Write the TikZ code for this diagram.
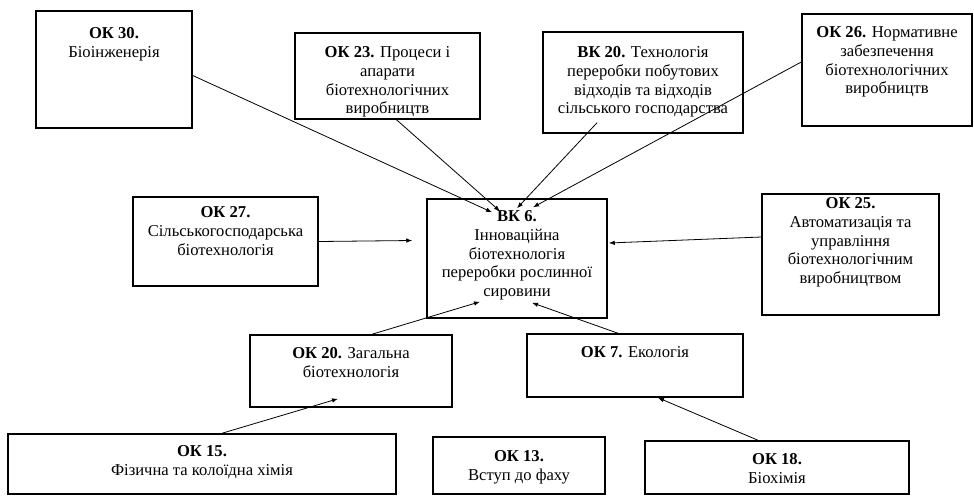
\documentclass[tikz,border=0pt]{standalone}
\usepackage{fontspec}
\setmainfont{Liberation Serif}
\usepackage{tikz}
\usetikzlibrary{arrows.meta,calc}

\begin{document}
\begin{tikzpicture}[x=1pt, y=-1pt,
    box/.style={draw, line width=1.5pt, inner sep=0pt},
    txt/.style={anchor=north, align=center, inner sep=0pt, yshift=-13pt,
      font=\fontsize{16.6}{18.8}\selectfont},
    arrow/.style={-{Latex[length=6pt, width=4.5pt]}, line width=0.8pt}
  ]
    \useasboundingbox (0,0) rectangle (974,496);

    % upper row
    \node[box, minimum width=156, minimum height=117,
      label={[txt, yshift=-4pt]north:{\textbf{ОК 30.}\\Біоінженерія}}] (ok30) at (114,69.5) {};
    \node[box, minimum width=185, minimum height=86,
      label={[txt, yshift=-1pt]north:{\textbf{ОК 23.} Процеси і\\апарати\\біотехнологічних\\виробництв}}] (ok23) at (387.5,76) {};
    \node[box, minimum width=200, minimum height=101,
      label={[txt, yshift=-2pt]north:{\textbf{ВК 20.} Технологія\\переробки побутових\\відходів та відходів\\сільського господарства}}] (bk20) at (643,82.5) {};
    \node[box, minimum width=170, minimum height=112,
      label={[txt]north:{\textbf{ОК 26.} Нормативне\\забезпечення\\біотехнологічних\\виробництв}}] (ok26) at (887,70) {};

    % middle row
    \node[box, minimum width=185, minimum height=89,
      label={[txt, yshift=3pt]north:{\textbf{ОК 27.}\\Сільськогосподарська\\біотехнологія}}] (ok27) at (225.5,241.5) {};
    \node[box, minimum width=180, minimum height=119,
      label={[txt, yshift=1pt]north:{\textbf{ВК 6.}\\Інноваційна\\біотехнологія\\переробки рослинної\\сировини}}] (bk6) at (517,258.5) {};
    \node[box, minimum width=177, minimum height=121,
      label={[txt, yshift=9pt]north:{\textbf{ОК 25.}\\Автоматизація та\\управління\\біотехнологічним\\виробництвом}}] (ok25) at (850.5,254.5) {};

    % lower rows
    \node[box, minimum width=202, minimum height=72,
      label={[txt]north:{\textbf{ОК 20.} Загальна\\біотехнологія}}] (ok20) at (351,371) {};
    \node[box, minimum width=216, minimum height=63,
      label={[txt]north:{\textbf{ОК 7.} Екологія}}] (ok7) at (635,365.5) {};
    \node[box, minimum width=388, minimum height=60,
      label={[txt, yshift=1pt]north:{\textbf{ОК 15.}\\Фізична та колоїдна хімія}}] (ok15) at (202,464) {};
    \node[box, minimum width=172, minimum height=57,
      label={[txt, yshift=-1pt]north:{\textbf{ОК 13.}\\Вступ до фаху}}] (ok13) at (519,465.5) {};
    \node[box, minimum width=264, minimum height=53,
      label={[txt]north:{\textbf{ОК 18.}\\Біохімія}}] (ok18) at (777,467.5) {};

    \draw[arrow] ($(ok30.east)+(0,6)$) -- ($(bk6.north)+(-25,14)$);
    \draw[arrow] ($(ok23.south)+(9,0)$) -- ($(bk6.north)+(-17,13)$);
    \draw[arrow] ($(bk20.south)+(-46,-11)$) -- ($(bk6.north)+(0,10)$);
    \draw[arrow] ($(ok26.west)+(0,-8)$) -- ($(bk6.north)+(16,9)$);
    \draw[arrow] (ok27.east) -- ($(bk6.west)+(-14,-18)$);
    \draw[arrow] ($(ok25.west)+(0,-17.5)$) -- ($(bk6.east)+(1,-15.5)$);
    \draw[arrow] ($(ok20.north)+(21,0)$) -- ($(bk6.south)+(-37,-17)$);
    \draw[arrow] ($(ok7.north)+(-17,0)$) -- ($(bk6.south)+(15,-16)$);
    \draw[arrow] ($(ok15.north)+(20,0)$) -- ($(ok20.south)+(-13,-9)$);
    \draw[arrow] ($(ok18.north)+(-19,0)$) -- ($(ok7.south)+(23,0)$);
\end{tikzpicture}
\end{document}
